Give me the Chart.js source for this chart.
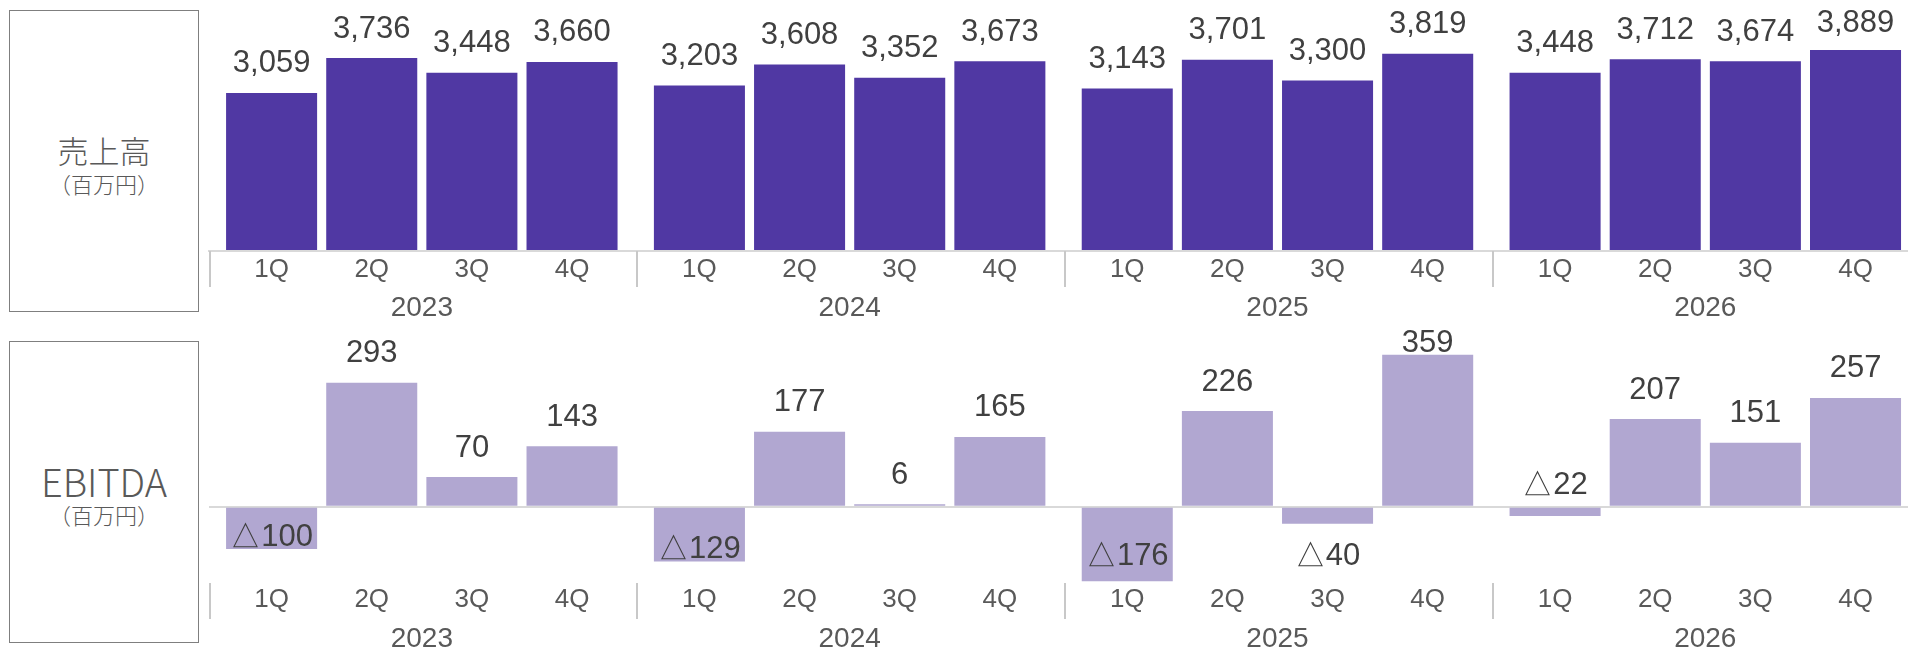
<!DOCTYPE html>
<html lang="ja">
<head>
<meta charset="utf-8">
<title>売上高・EBITDA</title>
<script src="https://cdn.jsdelivr.net/npm/chart.js@4/dist/chart.umd.min.js"></script>
<style>
  html, body { margin: 0; padding: 0; background: #fff; }
  body { width: 1908px; height: 651px; position: relative; overflow: hidden; }
  canvas { position: absolute; left: 0; }
  #sales { top: 0; }
  #ebitda { top: 320px; }
  .label-box {
    position: absolute; left: 9px; width: 190px; height: 302px;
    border: 1.5px solid #7f7f7f; box-sizing: border-box;
    color: #595959; font-family: "Noto Sans CJK JP", sans-serif; font-weight: 300;
  }
  .label-box .main, .label-box .unit {
    position: absolute; left: 0; right: 0; text-align: center; white-space: nowrap;
  }
  .label-box .main { top: 119px; height: 40px; line-height: 40px; font-size: 31px; }
  .label-box .unit { top: 158px; height: 28px; line-height: 28px; font-size: 22px; }
  #box-ebitda .main { font-size: 38px; }
</style>
</head>
<body>
<div class="label-box" id="box-sales" style="top:10px"><div class="main">売上高</div><div class="unit">（百万円）</div></div>
<div class="label-box" id="box-ebitda" style="top:341px"><div class="main">EBITDA</div><div class="unit">（百万円）</div></div>
<canvas id="sales" width="1908" height="320"></canvas>
<canvas id="ebitda" width="1908" height="331"></canvas>
<script>
const years = ['2023', '2024', '2025', '2026'];
const quarters = ['1Q', '2Q', '3Q', '4Q'];
const salesValues = [3059, 3736, 3448, 3660, 3203, 3608, 3352, 3673, 3143, 3701, 3300, 3819, 3448, 3712, 3674, 3889];
const ebitdaValues = [-100, 293, 70, 143, -129, 177, 6, 165, -176, 226, -40, 359, -22, 207, 151, 257];

// x positions in bar slots: each year block is 4 bars plus a small gap
const GROUP_STEP = 4.272;
const X_MIN = -0.625, X_MAX = 16.34;
const barX = salesValues.map((v, i) => Math.floor(i / 4) * GROUP_STEP + i % 4);
const yearX = years.map((y, g) => g * GROUP_STEP + 1.5);
const sepX = years.map((y, g) => g * GROUP_STEP - 0.62);

const LATIN = '"Liberation Sans", Arial, sans-serif';

function fmt(v) {
  return v < 0 ? '△' + Math.abs(v) : v.toLocaleString('en-US');
}

const valueLabels = {
  id: 'valueLabels',
  afterDatasetsDraw(chart) {
    const { ctx, chartArea, scales } = chart;
    const meta = chart.getDatasetMeta(0);
    const pts = chart.data.datasets[0].data;
    const zero = scales.y.getPixelForValue(0);
    ctx.save();
    ctx.font = '31px ' + LATIN;
    ctx.fillStyle = '#404040';
    ctx.textAlign = 'center';
    ctx.textBaseline = 'middle';
    meta.data.forEach((bar, i) => {
      const v = pts[i].y;
      let y;
      if (v >= 0) {
        y = Math.max(bar.y - 29, chartArea.top + 23);
      } else if (bar.y - zero >= 30) {
        // tall negative bar: label inside, near the bottom
        y = Math.min(bar.y - 12, zero + 50);
      } else if (v > -30) {
        y = zero - 21;
      } else {
        y = zero + 50;
      }
      ctx.fillText(fmt(v), bar.x, y);
    });
    ctx.restore();
  }
};

const yearSeparators = {
  id: 'yearSeparators',
  afterDraw(chart) {
    const { ctx, chartArea, scales } = chart;
    ctx.save();
    ctx.strokeStyle = '#c8c8c8';
    ctx.lineWidth = 2;
    sepX.forEach(v => {
      const x = Math.round(scales.x.getPixelForValue(v));
      ctx.beginPath();
      ctx.moveTo(x, chartArea.bottom);
      ctx.lineTo(x, chartArea.bottom + 36);
      ctx.stroke();
    });
    ctx.restore();
  }
};

function makeChart(id, values, color, yMin, yMax, opts) {
  return new Chart(document.getElementById(id), {
    type: 'bar',
    data: {
      datasets: [{
        data: values.map((v, i) => ({ x: barX[i], y: v })),
        backgroundColor: color,
        categoryPercentage: 1,
        barPercentage: 0.909
      }]
    },
    options: {
      responsive: false,
      animation: false,
      layout: { padding: { left: 209, top: 0, right: 0, bottom: 0 } },
      plugins: { legend: { display: false }, tooltip: { enabled: false } },
      scales: {
        x: {
          type: 'linear', position: 'bottom', weight: 1,
          min: X_MIN, max: X_MAX, offset: false, bounds: 'data',
          afterBuildTicks: s => { s.ticks = barX.map(v => ({ value: v })); },
          afterFit: s => { s.height = 34; },
          ticks: {
            autoSkip: false, maxRotation: 0, padding: opts.qPad,
            color: '#595959', font: { family: LATIN, size: 26 },
            callback: (v, i) => quarters[i % 4]
          },
          grid: { display: false, drawTicks: false, offset: false },
          border: { display: opts.baseline, color: '#d9d9d9', width: 2, z: 1 }
        },
        xYears: {
          type: 'linear', axis: 'x', position: 'bottom', weight: 2,
          min: X_MIN, max: X_MAX, offset: false, bounds: 'data',
          afterBuildTicks: s => { s.ticks = yearX.map(v => ({ value: v })); },
          afterFit: s => { s.height = opts.yearH; },
          ticks: {
            autoSkip: false, maxRotation: 0, padding: opts.yPad,
            color: '#595959', font: { family: LATIN, size: 28 },
            callback: (v, i) => years[i]
          },
          grid: { display: false, drawTicks: false, offset: false },
          border: { display: false }
        },
        y: {
          min: yMin, max: yMax, bounds: 'data', z: 1,
          display: opts.zeroLine,
          afterBuildTicks: s => { s.ticks = [{ value: 0 }]; },
          afterFit: s => { s.width = 0; },
          ticks: { display: false },
          grid: { color: '#d9d9d9', lineWidth: 2, drawTicks: false },
          border: { display: false }
        }
      }
    },
    plugins: [valueLabels, yearSeparators]
  });
}

makeChart('sales', salesValues, '#5038a3', 0, 4858,
  { qPad: 3, yPad: 6, yearH: 35, baseline: true, zeroLine: false });
makeChart('ebitda', ebitdaValues, '#b1a7d1', -180, 441,
  { qPad: 1, yPad: 5, yearH: 34, baseline: false, zeroLine: true });
</script>
</body>
</html>
